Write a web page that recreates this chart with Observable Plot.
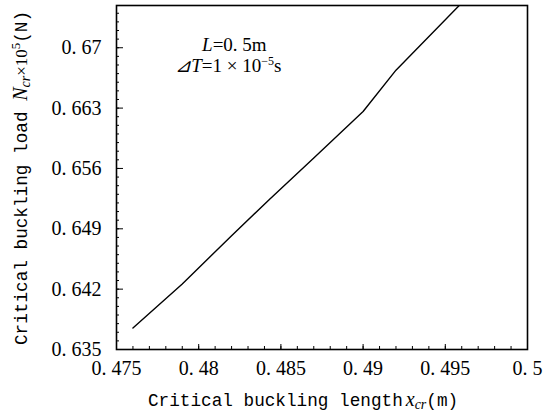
<!DOCTYPE html>
<html>
<head>
<meta charset="utf-8">
<script src="https://cdn.jsdelivr.net/npm/d3@7"></script>
<script src="https://cdn.jsdelivr.net/npm/@observablehq/plot@0.6"></script>
<style>
  html, body { margin: 0; padding: 0; background: #fff; }
  #chart svg { display: block; }
  #chart svg g[aria-label$="tick label"] text { font-family: 'Liberation Serif', serif !important; }
</style>
</head>
<body>
<div id="chart"></div>
<script>
// Data
const lengthX = [0.476, 0.479, 0.482, 0.4843, 0.487, 0.490, 0.492, 0.496];
const loadY   = [0.6375, 0.6426, 0.6482, 0.6524, 0.6572, 0.6626, 0.6674, 0.6752];

// Tick values
const xMajorTicks = [0.475, 0.48, 0.485, 0.49, 0.495, 0.5];
const yMajorTicks = [0.635, 0.642, 0.649, 0.656, 0.663, 0.67];
const xMinorTicks = d3.range(476, 500).map(d => d / 1000);
const yMinorTicks = d3.range(636, 675).map(d => d / 1000);

const data = lengthX.map((x, i) => ({x, y: loadY[i]}));

const W = 555, H = 416;
const mL = 116, mR = 28, mT = 5, mB = 67;
const fw = W - mL - mR, fh = H - mT - mB;

const serif = "'Liberation Serif', serif";
const mono = "'Liberation Mono', monospace";
const fmt = d => String(d).replace(".", ". ");

const plot = Plot.plot({
  width: W,
  height: H,
  marginLeft: mL,
  marginRight: mR,
  marginTop: mT,
  marginBottom: mB,
  style: {fontFamily: serif, fontSize: "20px", color: "#000", background: "#fff"},
  x: {domain: [0.475, 0.5]},
  y: {domain: [0.635, 0.6749]},
  marks: [
    Plot.line(data, {x: "x", y: "y", stroke: "#000", strokeWidth: 1.4, clip: true}),
    // inward ticks on the bottom edge
    Plot.tickX(xMinorTicks, {x: d => d, insetTop: fh - 3, stroke: "#000", strokeWidth: 1}),
    Plot.tickX(xMajorTicks, {x: d => d, insetTop: fh - 5, stroke: "#000", strokeWidth: 1}),
    // inward ticks on the left edge
    Plot.tickY(yMinorTicks, {y: d => d, insetRight: fw - 3, stroke: "#000", strokeWidth: 1}),
    Plot.tickY(yMajorTicks, {y: d => d, insetRight: fw - 7, stroke: "#000", strokeWidth: 1}),
    Plot.frame({stroke: "#000", strokeWidth: 1.6}),
    Plot.axisX({ticks: xMajorTicks, tickSize: 0, tickPadding: 11, tickFormat: fmt, label: null, fontSize: 20}),
    Plot.axisY({ticks: yMajorTicks, tickSize: 0, tickPadding: 15, tickFormat: fmt, label: null, fontSize: 20})
  ]
});

document.getElementById("chart").appendChild(plot);

const svg = d3.select(plot);
svg.attr("font-family", serif);
svg.selectAll("text").attr("font-family", serif).style("font-family", serif);
const sx = plot.scale("x"), sy = plot.scale("y");

// X axis label
const xl = svg.append("text")
  .attr("x", 148).attr("y", 406)
  .attr("text-anchor", "start")
  .attr("fill", "#000")
  .style("font-family", mono).style("font-size", "17.7px");
xl.append("tspan").text("Critical buckling length");
xl.append("tspan").attr("dx", 3).style("font-family", serif).style("font-style", "italic").style("font-size", "20px").text("x");
xl.append("tspan").attr("dy", 3).style("font-family", serif).style("font-style", "italic").style("font-size", "14px").text("cr");
xl.append("tspan").attr("dy", -3).text("(m)");

// Y axis label
const yl = svg.append("text")
  .attr("transform", "translate(27,345) rotate(-90)")
  .attr("text-anchor", "start")
  .attr("fill", "#000")
  .style("font-family", mono).style("font-size", "17.7px");
yl.append("tspan").text("Critical buckling load ");
yl.append("tspan").style("font-family", serif).style("font-style", "italic").style("font-size", "20px").text("N");
yl.append("tspan").attr("dy", 3).style("font-family", serif).style("font-style", "italic").style("font-size", "14px").text("cr");
yl.append("tspan").attr("dy", -3).style("font-family", serif).style("font-size", "17px").text("×10");
yl.append("tspan").attr("dy", -7).style("font-family", serif).style("font-size", "13px").text("5");
yl.append("tspan").attr("dy", 7).text("(N)");

// Annotation
const annX = 0.4822;
const a1 = svg.append("text")
  .attr("x", sx.apply(annX)).attr("y", sy.apply(0.6696))
  .attr("text-anchor", "middle").attr("fill", "#000")
  .style("font-family", serif).style("font-size", "19px");
a1.append("tspan").style("font-style", "italic").text("L");
a1.append("tspan").text("=0. 5m");

const a2 = svg.append("text")
  .attr("x", sx.apply(annX) - 6).attr("y", sy.apply(0.6671))
  .attr("text-anchor", "middle").attr("fill", "#000")
  .style("font-family", serif).style("font-size", "19px");
a2.append("tspan").style("font-style", "italic").text("⊿T");
a2.append("tspan").text("=1 × 10");
a2.append("tspan").attr("dy", -7).style("font-size", "12px").text("−5");
a2.append("tspan").attr("dy", 7).text("s");
</script>
</body>
</html>
